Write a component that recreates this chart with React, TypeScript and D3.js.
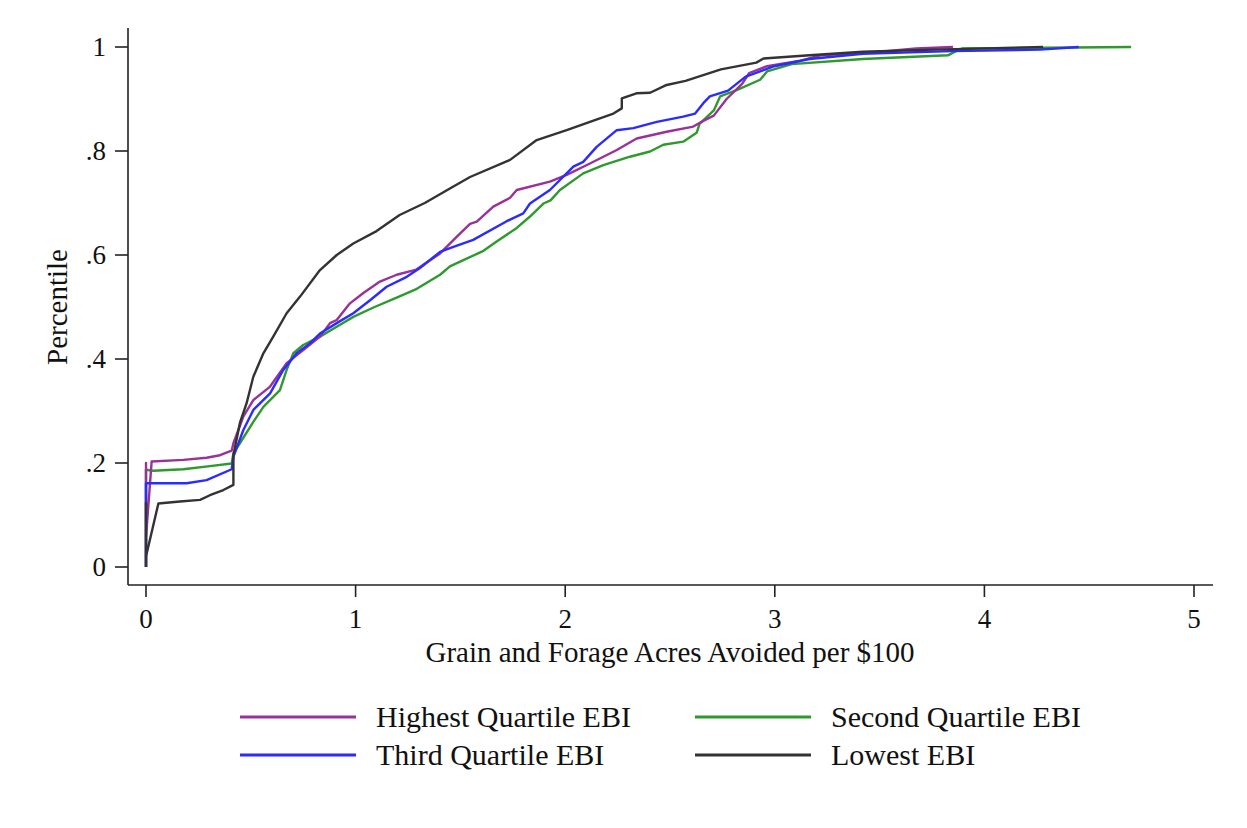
import React from "react";
import * as d3 from "d3";

const xTicks = [0, 1, 2, 3, 4, 5];
const yTicks = [0, 0.2, 0.4, 0.6, 0.8, 1];
const yTickLabels = ["0", ".2", ".4", ".6", ".8", "1"];

const highest: [number, number][] = [
  [0, 0], [0, 0.2], [0, 0.058], [0.027, 0.203], [0.178, 0.206], [0.289, 0.21], [0.353, 0.215], [0.409, 0.224],
  [0.417, 0.238], [0.464, 0.289], [0.512, 0.321], [0.592, 0.347], [0.671, 0.392], [0.75, 0.417], [0.83, 0.443],
  [0.878, 0.469], [0.91, 0.475], [0.973, 0.507], [1.037, 0.527], [1.116, 0.549], [1.196, 0.562], [1.29, 0.572],
  [1.403, 0.603], [1.482, 0.635], [1.546, 0.66], [1.578, 0.664], [1.657, 0.693], [1.737, 0.71], [1.769, 0.725],
  [1.927, 0.741], [2.007, 0.754], [2.118, 0.776], [2.246, 0.802], [2.341, 0.824], [2.484, 0.837], [2.611, 0.847],
  [2.659, 0.858], [2.709, 0.868], [2.77, 0.9], [2.844, 0.929], [2.878, 0.95], [2.963, 0.963], [3.115, 0.973],
  [3.217, 0.984], [3.504, 0.991], [3.674, 0.997], [3.85, 1.0],
];

const second: [number, number][] = [
  [0, 0], [0, 0.187], [0.035, 0.185], [0.178, 0.188], [0.305, 0.194], [0.409, 0.199],
  [0.417, 0.219], [0.448, 0.238], [0.512, 0.279], [0.56, 0.308], [0.639, 0.34], [0.671, 0.379], [0.703, 0.411],
  [0.75, 0.427], [0.83, 0.443], [0.91, 0.462], [0.989, 0.481], [1.085, 0.499], [1.196, 0.518], [1.292, 0.535],
  [1.403, 0.562], [1.45, 0.578], [1.514, 0.59], [1.61, 0.608], [1.673, 0.626], [1.769, 0.652], [1.832, 0.674],
  [1.896, 0.699], [1.93, 0.705], [1.975, 0.725], [2.086, 0.757], [2.182, 0.773], [2.309, 0.789], [2.405, 0.799],
  [2.468, 0.812], [2.563, 0.818], [2.627, 0.835], [2.641, 0.852], [2.709, 0.878], [2.739, 0.905], [2.818, 0.917],
  [2.93, 0.937], [2.963, 0.953], [3.081, 0.967], [3.42, 0.977], [3.826, 0.984], [3.86, 0.991], [3.893, 0.997],
  [4.7, 1.0],
];

const third: [number, number][] = [
  [0, 0], [0, 0.161], [0.019, 0.161], [0.194, 0.161], [0.289, 0.167], [0.409, 0.188],
  [0.417, 0.212], [0.464, 0.263], [0.512, 0.302], [0.592, 0.334], [0.655, 0.379], [0.719, 0.411], [0.782, 0.43],
  [0.83, 0.449], [0.91, 0.469], [0.989, 0.488], [1.069, 0.513], [1.148, 0.539], [1.244, 0.558], [1.307, 0.575],
  [1.403, 0.606], [1.45, 0.613], [1.561, 0.629], [1.721, 0.665], [1.8, 0.68], [1.832, 0.699], [1.927, 0.725],
  [2.039, 0.77], [2.086, 0.779], [2.15, 0.808], [2.246, 0.84], [2.325, 0.844], [2.437, 0.856], [2.563, 0.866],
  [2.62, 0.872], [2.659, 0.892], [2.69, 0.905], [2.777, 0.916], [2.861, 0.943], [2.997, 0.963], [3.166, 0.977],
  [3.42, 0.987], [3.843, 0.992], [4.265, 0.995], [4.45, 1.0],
];

const lowest: [number, number][] = [
  [0, 0], [0, 0.123], [0, 0.02], [0.059, 0.122], [0.162, 0.126], [0.258, 0.129], [0.305, 0.138], [0.369, 0.148],
  [0.417, 0.158], [0.417, 0.215], [0.448, 0.277], [0.48, 0.315], [0.512, 0.366], [0.56, 0.411], [0.607, 0.443],
  [0.671, 0.488], [0.735, 0.52], [0.83, 0.571], [0.91, 0.6], [0.989, 0.622], [1.1, 0.646], [1.21, 0.677],
  [1.33, 0.7], [1.45, 0.728], [1.546, 0.75], [1.737, 0.783], [1.864, 0.821], [2.007, 0.84], [2.118, 0.856],
  [2.23, 0.872], [2.27, 0.882], [2.27, 0.901], [2.34, 0.911], [2.405, 0.912], [2.484, 0.927], [2.574, 0.935],
  [2.743, 0.957], [2.912, 0.97], [2.946, 0.978], [3.166, 0.984], [3.42, 0.991], [3.758, 0.995], [4.28, 1.0],
];

const seriesNames = ["Highest Quartile EBI", "Second Quartile EBI", "Third Quartile EBI", "Lowest EBI"];
const seriesData = [highest, second, third, lowest];
const seriesColors = ["#983298", "#2e9a2e", "#2b2bff", "#333333"];
const drawOrder = [1, 0, 2, 3];

const FONT = "'Liberation Serif', 'Times New Roman', serif";

export default function App() {
  const x = d3.scaleLinear().domain([0, 5]).range([146, 1194]);
  const y = d3.scaleLinear().domain([0, 1]).range([567, 47]);
  const line = d3
    .line<[number, number]>()
    .x((d) => x(d[0]))
    .y((d) => y(d[1]));

  const legendPos = [
    { lx: 240, ly: 717 },
    { lx: 695, ly: 717 },
    { lx: 240, ly: 755 },
    { lx: 695, ly: 755 },
  ];

  return (
    <svg
      width={1247}
      height={828}
      style={{ position: "absolute", left: 0, top: 0, background: "#fff" }}
      fontFamily={FONT}
    >
      <rect x={0} y={0} width={1247} height={828} fill="#fff" />
      {/* axes */}
      <line x1={128} x2={128} y1={28} y2={585} stroke="#222" strokeWidth={1.6} />
      <line x1={128} x2={1213} y1={585} y2={585} stroke="#222" strokeWidth={1.6} />
      {yTicks.map((t, i) => (
        <g key={"y" + i}>
          <line x1={115} x2={128} y1={y(t)} y2={y(t)} stroke="#222" strokeWidth={1.6} />
          <text x={106} y={y(t)} dy="0.34em" textAnchor="end" fontSize={27} fill="#111">
            {yTickLabels[i]}
          </text>
        </g>
      ))}
      {xTicks.map((t, i) => (
        <g key={"x" + i}>
          <line x1={x(t)} x2={x(t)} y1={585} y2={597} stroke="#222" strokeWidth={1.6} />
          <text x={x(t)} y={628} textAnchor="middle" fontSize={27} fill="#111">
            {String(t)}
          </text>
        </g>
      ))}
      <text x={670} y={662} textAnchor="middle" fontSize={29} fill="#111">
        Grain and Forage Acres Avoided per $100
      </text>
      <text
        transform="translate(67,307) rotate(-90)"
        textAnchor="middle"
        fontSize={29}
        fill="#111"
      >
        Percentile
      </text>
      {/* series */}
      {drawOrder.map((k) => (
        <path
          key={"s" + k}
          d={line(seriesData[k]) || ""}
          fill="none"
          stroke={seriesColors[k]}
          strokeWidth={2.4}
          strokeLinejoin="round"
        />
      ))}
      {/* legend */}
      {seriesNames.map((n, i) => (
        <g key={"l" + i}>
          <line
            x1={legendPos[i].lx}
            x2={legendPos[i].lx + 116}
            y1={legendPos[i].ly}
            y2={legendPos[i].ly}
            stroke={seriesColors[i]}
            strokeWidth={3}
          />
          <text
            x={legendPos[i].lx + 136}
            y={legendPos[i].ly}
            dy="0.34em"
            fontSize={30}
            fill="#111"
          >
            {n}
          </text>
        </g>
      ))}
    </svg>
  );
}
